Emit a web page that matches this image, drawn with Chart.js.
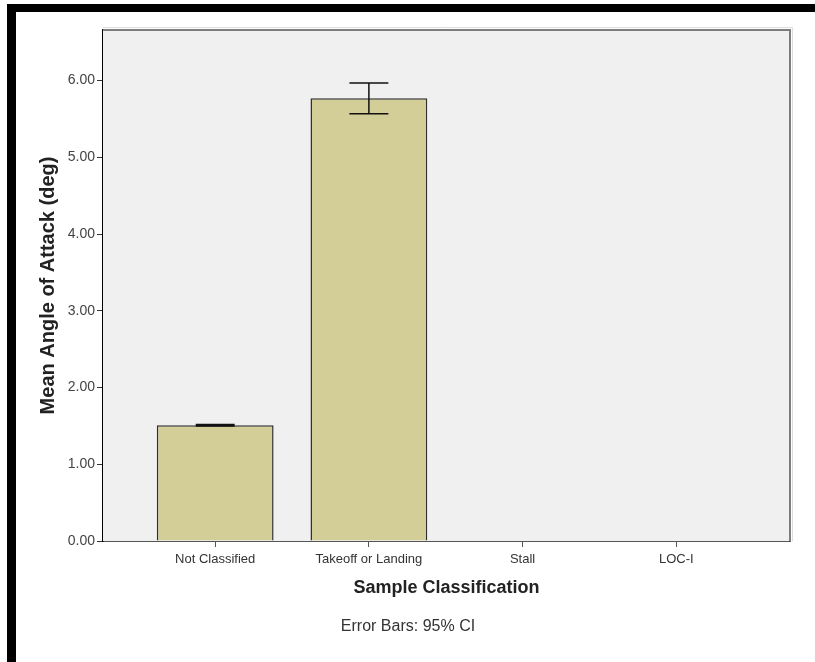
<!DOCTYPE html>
<html>
<head>
<meta charset="utf-8">
<script src="https://cdn.jsdelivr.net/npm/chart.js@4.4.1/dist/chart.umd.min.js"></script>
<style>
  html, body { margin: 0; padding: 0; background: #fff; }
  #wrap { position: relative; width: 815px; height: 662px; overflow: hidden; background: #fff; }
  #frame { position: absolute; left: 7px; top: 4px; width: 830px; height: 666px; box-sizing: border-box;
           border-left: 9px solid #000; border-top: 8px solid #000; border-bottom: 8px solid #000; }
  #chart { position: absolute; left: 0; top: 0; }
</style>
</head>
<body>
<div id="wrap">
  <div id="frame"></div>
  <canvas id="chart" width="815" height="662"></canvas>
</div>
<script>
// Mean angle of attack by sample classification, with 95% confidence intervals
const categories = ['Not Classified', 'Takeoff or Landing', 'Stall', 'LOC-I'];
const meanAoA = [1.51, 5.77, null, null];
const ciLower = [1.50, 5.57, null, null];
const ciUpper = [1.52, 5.97, null, null];

const FONT = "'Liberation Sans', Arial, Helvetica, sans-serif";

const barData = categories.map((c, i) => ({ x: i, y: meanAoA[i] }));

// Light grey plot background
const plotBackground = {
  id: 'plotBackground',
  beforeDatasetsDraw(chart) {
    const { ctx, chartArea: a } = chart;
    ctx.save();
    ctx.fillStyle = '#f0f0f0';
    ctx.fillRect(a.left, a.top, a.right - a.left, a.bottom - a.top);
    ctx.restore();
  }
};

// 95% CI whiskers drawn on top of each bar
const errorBars = {
  id: 'errorBars',
  afterDatasetsDraw(chart) {
    const { ctx } = chart;
    const y = chart.scales.y;
    const meta = chart.getDatasetMeta(0);
    ctx.save();
    ctx.strokeStyle = '#111';
    ctx.lineWidth = 1.5;
    meta.data.forEach((bar, i) => {
      if (ciLower[i] == null || ciUpper[i] == null) return;
      const x = bar.x;
      const half = bar.width / 6;
      const yLo = y.getPixelForValue(ciLower[i]);
      const yHi = y.getPixelForValue(ciUpper[i]);
      ctx.beginPath();
      ctx.moveTo(x, yLo); ctx.lineTo(x, yHi);
      ctx.moveTo(x - half, yHi); ctx.lineTo(x + half, yHi);
      ctx.moveTo(x - half, yLo); ctx.lineTo(x + half, yLo);
      ctx.stroke();
    });
    ctx.restore();
  }
};

// Top/right frame of the plot and the footnote
const frameAndNote = {
  id: 'frameAndNote',
  afterDraw(chart) {
    const { ctx, chartArea: a } = chart;
    ctx.save();
    ctx.strokeStyle = '#dcdcdc';
    ctx.lineWidth = 1;
    ctx.beginPath();
    ctx.moveTo(a.left, a.top - 2.5); ctx.lineTo(a.right + 2.5, a.top - 2.5); ctx.lineTo(a.right + 2.5, a.bottom);
    ctx.stroke();
    ctx.strokeStyle = '#7d7d7d';
    ctx.lineWidth = 2;
    ctx.beginPath();
    ctx.moveTo(a.left, a.top); ctx.lineTo(a.right, a.top); ctx.lineTo(a.right, a.bottom);
    ctx.stroke();
    ctx.fillStyle = '#333';
    ctx.font = '16px ' + FONT;
    ctx.textAlign = 'center';
    ctx.textBaseline = 'middle';
    ctx.fillText('Error Bars: 95% CI', 408, 627);
    ctx.restore();
  }
};

new Chart(document.getElementById('chart'), {
  type: 'bar',
  data: {
    datasets: [{
      data: barData,
      backgroundColor: '#d3cd97',
      borderColor: '#2e2e2e',
      borderWidth: 1.5,
      barPercentage: 0.76,
      categoryPercentage: 1.0
    }]
  },
  options: {
    responsive: false,
    animation: false,
    layout: { padding: { left: 0, top: 30, right: 25, bottom: 0 } },
    plugins: { legend: { display: false }, tooltip: { enabled: false } },
    scales: {
      x: {
        type: 'linear',
        min: -0.73,
        max: 3.74,
        offset: false,
        afterFit(scale) { scale.height = 121; },
        grid: { offset: false, drawOnChartArea: false, drawTicks: true, tickLength: 6, tickColor: '#555' },
        border: { display: true, color: '#555', width: 2 },
        ticks: {
          stepSize: 1,
          includeBounds: false,
          autoSkip: false,
          maxRotation: 0,
          padding: 5,
          color: '#333',
          font: { family: FONT, size: 13 },
          callback: (v) => categories[v] ?? ''
        },
        title: {
          display: true,
          text: 'Sample Classification',
          color: '#222',
          font: { family: FONT, size: 18, weight: 'bold' },
          padding: { top: 0, bottom: 63 }
        }
      },
      y: {
        min: 0,
        max: 6.66,
        afterFit(scale) { scale.width = 103; },
        grid: { drawOnChartArea: false, drawTicks: true, tickLength: 6, tickColor: '#333' },
        border: { display: true, color: '#000', width: 1.5 },
        ticks: {
          stepSize: 1,
          includeBounds: false,
          padding: 2,
          color: '#444',
          font: { family: FONT, size: 14 },
          callback: (v) => Number(v).toFixed(2)
        },
        title: {
          display: true,
          text: 'Mean Angle of Attack (deg)',
          color: '#222',
          font: { family: FONT, size: 20, weight: 'bold' },
          padding: { top: 36, bottom: 0 }
        }
      }
    }
  },
  plugins: [plotBackground, errorBars, frameAndNote]
});
</script>
</body>
</html>
